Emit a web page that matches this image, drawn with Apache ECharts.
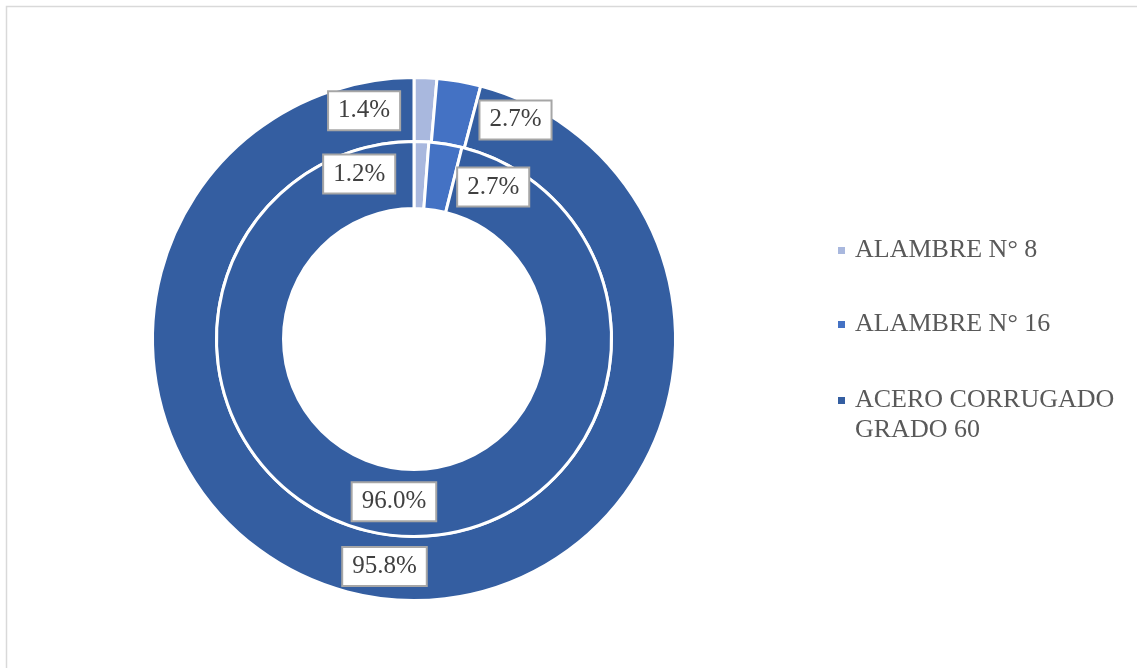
<!DOCTYPE html>
<html>
<head>
<meta charset="utf-8">
<title>Distribución de materiales</title>
<script src="https://cdn.jsdelivr.net/npm/echarts@6/dist/echarts.min.js"></script>
<style>
  html, body { margin: 0; padding: 0; background: #ffffff; }
  #chart { width: 1137px; height: 668px; }
</style>
</head>
<body>
<div id="chart"></div>
<script>
// Material shares (percent)
const categories = ['ALAMBRE N° 8', 'ALAMBRE N° 16', 'ACERO CORRUGADO GRADO 60'];
const outerValues = [1.4, 2.7, 95.8];
const innerValues = [1.2, 2.7, 96.0];
const sliceColors = ['#A9B8DE', '#4472C4', '#345EA1'];

// Ring geometry (px)
const CENTER = [414, 339];
const OUTER_RADIUS = [197.5, 261.5];
const INNER_RADIUS = [130.5, 197.5];

// Label box offsets from each slice's mid point (px)
const outerLabelOffsets = [[-60, 1], [62, 7], [0, 0]];
const innerLabelOffsets = [[-61, -1], [53, 10], [0, 0]];

const FONT = '"Liberation Serif", "Times New Roman", serif';

// Mid point of a slice (mid angle, mid radius), clockwise from 12 o'clock
function sliceAnchor(values, idx, radius) {
  const total = values.reduce((a, b) => a + b, 0);
  let before = 0;
  for (let i = 0; i < idx; i++) before += values[i];
  const frac = (before + values[idx] / 2) / total;
  const ang = frac * Math.PI * 2;
  const r = (radius[0] + radius[1]) / 2;
  return [CENTER[0] + r * Math.sin(ang), CENTER[1] - r * Math.cos(ang)];
}

function makeLabelLayout(values, radius, offsets) {
  return function (params) {
    const i = params.dataIndex;
    const a = sliceAnchor(values, i, radius);
    const off = offsets[i];
    const x = a[0] + off[0];
    const y = a[1] + off[1];
    const hw = params.labelRect.width / 2;
    let pts;
    if (off[0] < 0) {
      pts = [a, [x + hw, y]];
    } else if (off[0] > 0) {
      pts = [a, [x - hw - 13, y], [x - hw, y]];
    } else {
      pts = [a, a];
    }
    return { x: x, y: y, align: 'center', verticalAlign: 'middle', labelLinePoints: pts };
  };
}

function buildData(values) {
  return categories.map((name, i) => ({
    name: name,
    value: values[i],
    itemStyle: { color: sliceColors[i] },
    labelLine: { show: i < 2 }
  }));
}

const labelStyle = {
  show: true,
  position: 'outside',
  alignTo: 'none',
  formatter: p => p.value.toFixed(1) + '%',
  fontFamily: FONT,
  fontSize: 25,
  lineHeight: 28,
  color: '#404040',
  backgroundColor: '#ffffff',
  borderColor: '#A6A6A6',
  borderWidth: 2,
  padding: [5, 9, 4, 9]
};

const labelLineStyle = {
  show: true,
  lineStyle: { color: '#A6A6A6', width: 1.5 }
};

function pieSeries(name, values, radius, offsets) {
  return {
    type: 'pie',
    name: name,
    center: CENTER,
    radius: radius,
    startAngle: 90,
    clockwise: true,
    avoidLabelOverlap: false,
    silent: true,
    itemStyle: { borderColor: '#ffffff', borderWidth: 3 },
    label: labelStyle,
    labelLine: labelLineStyle,
    labelLayout: makeLabelLayout(values, radius, offsets),
    emphasis: { disabled: true },
    data: buildData(values)
  };
}

const legendBase = {
  orient: 'vertical',
  left: 836,
  padding: 0,
  icon: 'rect',
  itemWidth: 9,
  itemHeight: 9,
  selectedMode: false,
  textStyle: {
    fontFamily: FONT,
    fontSize: 26,
    lineHeight: 30,
    color: '#595959',
    padding: [0, 0, 0, 4]
  }
};

const option = {
  backgroundColor: '#ffffff',
  animation: false,
  graphic: [{
    type: 'rect',
    shape: { x: 6.5, y: 6.5, width: 1140, height: 680 },
    style: { fill: 'none', stroke: '#D9D9D9', lineWidth: 1.5 },
    silent: true
  }],
  legend: [
    Object.assign({}, legendBase, { data: [categories[0]], top: 235.5 }),
    Object.assign({}, legendBase, { data: [categories[1]], top: 309.5 }),
    Object.assign({}, legendBase, {
      data: [categories[2]],
      top: 355.5,
      formatter: n => '\n' + n.replace(' GRADO', '\nGRADO')
    })
  ],
  series: [
    pieSeries('Exterior', outerValues, OUTER_RADIUS, outerLabelOffsets),
    pieSeries('Interior', innerValues, INNER_RADIUS, innerLabelOffsets)
  ]
};

const chart = echarts.init(document.getElementById('chart'), null, { renderer: 'canvas' });
chart.setOption(option);
</script>
</body>
</html>
